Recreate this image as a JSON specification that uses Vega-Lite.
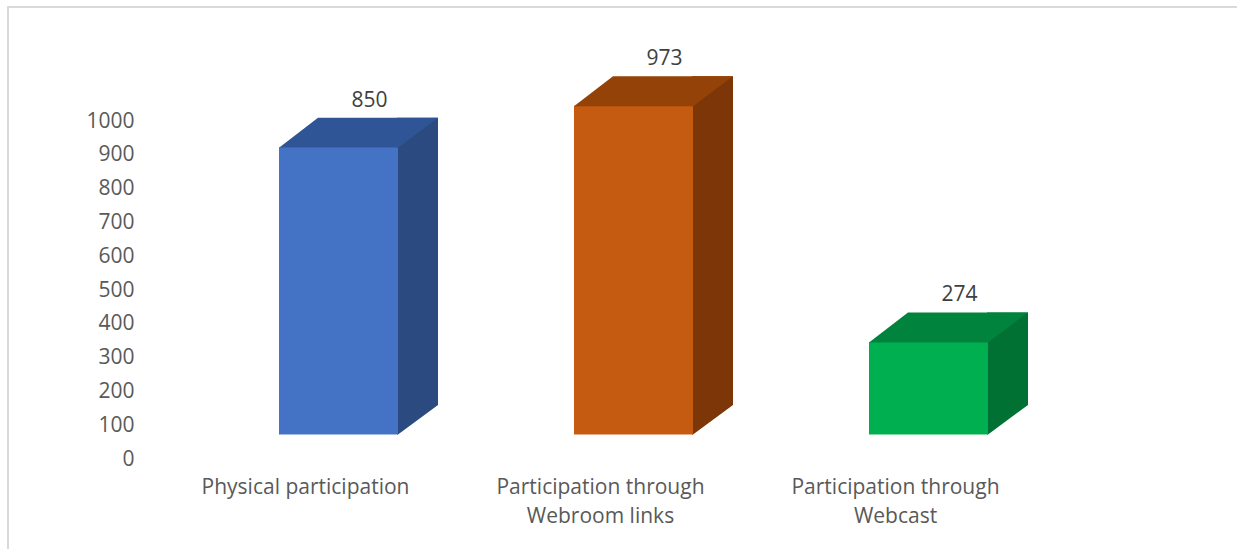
{
  "$schema": "https://vega.github.io/schema/vega-lite/v6.json",
  "width": 1233,
  "height": 546,
  "autosize": {"type": "none"},
  "padding": {"left": 8, "top": 7, "right": -4, "bottom": -4},
  "background": "white",
  "config": {"view": {"stroke": "#D9D9D9", "strokeWidth": 2}, "font": "Open Sans"},
  "data": {"values": [
    {"category": "Physical participation", "value": 850},
    {"category": "Participation through Webroom links", "value": 973},
    {"category": "Participation through Webcast", "value": 274}
  ]},
  "encoding": {
    "x": {"field": "category", "type": "nominal", "sort": null,
      "scale": {"type": "band", "paddingInner": 0, "paddingOuter": 0, "range": [150, 1035]},
      "axis": {"title": null, "domain": false, "ticks": false, "grid": false, "labelAngle": 0, "offset": -94,
        "labelFontSize": 21, "labelColor": "#595959", "labelPadding": 17, "labelBaseline": "top",
        "labelLineHeight": 29, "labelLimit": 400, "labelOverlap": false,
        "labelExpr": "indexof(datum.value, 'through ') > 0 ? ['Participation through', replace(datum.value, 'Participation through ', '')] : datum.value"}},
    "y": {"field": "value", "type": "quantitative",
      "scale": {"domain": [0, 1000], "nice": false, "zero": true, "range": [452, 114]},
      "axis": {"title": null, "domain": false, "ticks": false, "grid": false, "format": "d", "offset": -150,
        "values": [0, 100, 200, 300, 400, 500, 600, 700, 800, 900, 1000],
        "labelFontSize": 21, "labelColor": "#595959", "labelPadding": 24}}
  },
  "layer": [
    {
      "mark": {"type": "bar", "width": 41, "xOffset": 112, "yOffset": -54, "y2Offset": -54},
      "encoding": {
        "y2": {"datum": 0},
        "color": {"field": "category", "type": "nominal",
          "scale": {"domain": ["Physical participation", "Participation through Webroom links", "Participation through Webcast"], "range": ["#2A4A80", "#7C3607", "#007033"]},
          "legend": null}
      }
    },
    {
      "mark": {"type": "point", "shape": "M 0.61 -0.3733 L 0.8833 -0.3733 L 0.8833 -0.36 L 0.6167 -0.1633 L 0.61 -0.1633 Z", "size": 90000, "filled": true, "opacity": 1, "strokeWidth": 0},
      "encoding": {
        "y": {"datum": 0},
        "color": {"field": "category", "type": "nominal",
          "scale": {"domain": ["Physical participation", "Participation through Webroom links", "Participation through Webcast"], "range": ["#2A4A80", "#7C3607", "#007033"]},
          "legend": null}
      }
    },
    {
      "mark": {"type": "bar", "width": 119, "xOffset": 33, "yOffset": -24.5, "y2Offset": -24.5},
      "encoding": {
        "y2": {"datum": 0},
        "color": {"field": "category", "type": "nominal",
          "scale": {"domain": ["Physical participation", "Participation through Webroom links", "Participation through Webcast"], "range": ["#4472C4", "#C55A11", "#00B050"]},
          "legend": null}
      }
    },
    {
      "mark": {"type": "point", "shape": "M -0.1767 -0.16 L 0.6167 -0.16 L 0.8833 -0.36 L 0.0833 -0.36 Z", "size": 90000, "filled": true, "opacity": 1, "strokeWidth": 0},
      "encoding": {
        "color": {"field": "category", "type": "nominal",
          "scale": {"domain": ["Physical participation", "Participation through Webroom links", "Participation through Webcast"], "range": ["#2F5597", "#954209", "#00833C"]},
          "legend": null}
      }
    },
    {
      "mark": {"type": "text", "dx": 64, "dy": -71, "fontSize": 21, "color": "#404040", "baseline": "middle", "align": "center"},
      "encoding": {"text": {"field": "value", "type": "quantitative"}}
    }
  ],
  "resolve": {"scale": {"color": "independent"}}
}
